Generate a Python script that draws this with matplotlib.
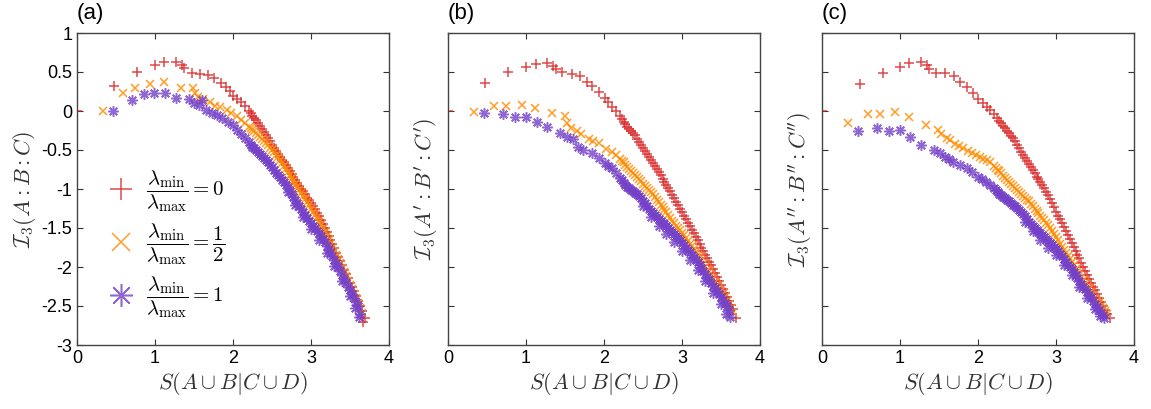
import numpy as np
import matplotlib
matplotlib.use("Agg")
import matplotlib.pyplot as plt

plt.rcParams['font.family'] = ['Liberation Sans', 'DejaVu Sans']
plt.rcParams['mathtext.fontset'] = 'cm'

# ---- panel (a) ----
a_red_x = [0, 0.478, 0.769, 1.0, 1.12, 1.265, 1.35, 1.376, 1.47, 1.58, 1.68, 1.76, 1.846, 1.906, 1.96,
           2.0, 2.05, 2.1, 2.15, 2.2, 2.25, 2.3, 2.35, 2.4, 2.45, 2.5, 2.55, 2.6, 2.65, 2.7, 2.75, 2.8,
           2.85, 2.9, 2.95, 3.0, 3.05, 3.1, 3.15, 3.2, 3.25, 3.3, 3.35, 3.4, 3.45, 3.5, 3.55, 3.6, 3.65,
           3.69, 3.67,
           2.225, 2.275, 2.325, 2.375, 2.425, 2.475, 2.525, 2.575, 2.625, 2.675, 2.725, 2.775, 2.825,
           2.875, 2.925, 2.975, 3.025, 3.075, 3.125, 3.175, 3.225, 3.275, 3.325, 3.375, 3.425, 3.475,
           3.525, 3.575, 3.625]
a_red_y = [0, 0.325, 0.496, 0.59, 0.628, 0.632, 0.59, 0.547, 0.483, 0.47, 0.456, 0.419, 0.363, 0.313, 0.26,
           0.19, 0.15, 0.11, 0.06, 0.0, -0.06, -0.115, -0.19, -0.27, -0.35, -0.43, -0.51, -0.585, -0.66,
           -0.73, -0.81, -0.88, -0.96, -1.03, -1.11, -1.18, -1.26, -1.35, -1.45, -1.55, -1.65, -1.76,
           -1.87, -1.98, -2.09, -2.2, -2.31, -2.43, -2.56, -2.66, -2.70,
           -0.03, -0.088, -0.152, -0.23, -0.31, -0.39, -0.47, -0.548, -0.622, -0.695, -0.77, -0.845,
           -0.92, -0.995, -1.07, -1.145, -1.22, -1.305, -1.40, -1.50, -1.60, -1.705, -1.815, -1.925,
           -2.035, -2.145, -2.255, -2.37, -2.495]
a_org_x = [0.333, 0.585, 0.744, 0.94, 1.115, 1.33, 1.49, 1.51, 1.555, 1.61, 1.705, 1.77, 1.83, 1.92, 1.98,
           2.05, 2.1, 2.15, 2.2, 2.25, 2.3, 2.35, 2.4, 2.45, 2.5, 2.55, 2.6, 2.65, 2.7, 2.75, 2.8, 2.85,
           2.9, 2.95, 3.0, 3.05, 3.1, 3.15, 3.2, 3.25, 3.3, 3.35, 3.4, 3.45, 3.5, 3.55, 3.6, 3.65,
           2.225, 2.275, 2.325, 2.375, 2.425, 2.475, 2.525, 2.575, 2.625, 2.675, 2.725, 2.775, 2.825,
           2.875, 2.925, 2.975, 3.025, 3.075, 3.125, 3.175, 3.225, 3.275, 3.325, 3.375, 3.425, 3.475,
           3.525, 3.575, 3.625]
a_org_y = [0.0, 0.235, 0.29, 0.34, 0.367, 0.30, 0.30, 0.235, 0.18, 0.16, 0.12, 0.064, 0.056, 0.013, -0.03,
           -0.07, -0.11, -0.16, -0.2, -0.24, -0.28, -0.33, -0.38, -0.44, -0.5, -0.56, -0.63, -0.71, -0.78,
           -0.86, -0.93, -1.01, -1.09, -1.17, -1.25, -1.33, -1.42, -1.51, -1.6, -1.7, -1.8, -1.9, -2.01,
           -2.12, -2.23, -2.34, -2.46, -2.59,
           -0.22, -0.26, -0.305, -0.355, -0.41, -0.47, -0.53, -0.595, -0.67, -0.745, -0.82, -0.895,
           -0.97, -1.05, -1.13, -1.21, -1.29, -1.375, -1.465, -1.555, -1.65, -1.75, -1.85, -1.955,
           -2.065, -2.175, -2.285, -2.4, -2.525]
a_pur_x = [0.46, 0.705, 0.86, 0.99, 1.128, 1.27, 1.43, 1.5, 1.564, 1.6, 1.66, 1.73, 1.79, 1.855, 1.94,
           2.0, 2.05, 2.1, 2.15, 2.2, 2.25, 2.3, 2.35, 2.4, 2.45, 2.5, 2.55, 2.6, 2.65, 2.7, 2.75, 2.8,
           2.85, 2.9, 2.95, 3.0, 3.05, 3.1, 3.15, 3.2, 3.25, 3.3, 3.35, 3.4, 3.45, 3.5, 3.55, 3.6, 3.63,
           3.62, 2.7, 2.8, 2.9, 3.0, 3.1, 3.2, 3.3, 3.4, 3.5, 3.57,
           2.225, 2.275, 2.325, 2.375, 2.425, 2.475, 2.525, 2.575, 2.625, 2.675, 2.725, 2.775, 2.825,
           2.875, 2.925, 2.975, 3.025, 3.075, 3.125, 3.175, 3.225, 3.275, 3.325, 3.375, 3.425, 3.475,
           3.525, 3.575]
a_pur_y = [0.0, 0.137, 0.214, 0.23, 0.227, 0.17, 0.154, 0.099, 0.077, 0.14, 0.013, -0.03, -0.05, -0.094,
           -0.137, -0.18, -0.24, -0.29, -0.34, -0.4, -0.46, -0.5, -0.55, -0.6, -0.66, -0.72, -0.79, -0.85,
           -0.91, -0.98, -1.06, -1.14, -1.22, -1.3, -1.37, -1.44, -1.5, -1.57, -1.64, -1.73, -1.82, -1.91,
           -2.0, -2.1, -2.2, -2.3, -2.4, -2.5, -2.6, -2.64, -1.04, -1.2, -1.36, -1.51, -1.66, -1.82,
           -1.99, -2.18, -2.37, -2.52,
           -0.43, -0.48, -0.525, -0.575, -0.63, -0.69, -0.755, -0.82, -0.88, -0.945, -1.02, -1.1, -1.18,
           -1.26, -1.335, -1.405, -1.47, -1.535, -1.605, -1.685, -1.775, -1.865, -1.955, -2.05, -2.15,
           -2.25, -2.35, -2.45]

# ---- panel (b) ----
b_red_x = [0, 0.474, 0.773, 1.0, 1.124, 1.27, 1.35, 1.38, 1.465, 1.585, 1.69, 1.78, 1.84, 1.93, 2.01,
           2.05, 2.1, 2.15, 2.2, 2.25, 2.3, 2.35, 2.4, 2.45, 2.5, 2.55, 2.6, 2.65, 2.7, 2.75, 2.8, 2.85,
           2.9, 2.95, 3.0, 3.05, 3.1, 3.15, 3.2, 3.25, 3.3, 3.35, 3.4, 3.45, 3.5, 3.55, 3.6, 3.65, 3.69,
           2.225, 2.275, 2.325, 2.375, 2.425, 2.475, 2.525, 2.575, 2.625, 2.675, 2.725, 2.775, 2.825,
           2.875, 2.925, 2.975, 3.025, 3.075, 3.125, 3.175, 3.225, 3.275, 3.325, 3.375, 3.425, 3.475,
           3.525, 3.575, 3.625]
b_red_y = [0, 0.355, 0.496, 0.57, 0.6, 0.61, 0.58, 0.534, 0.496, 0.474, 0.449, 0.376, 0.32, 0.248, 0.163,
           0.11, 0.055, 0.0, -0.07, -0.137, -0.2, -0.25, -0.31, -0.4, -0.48, -0.55, -0.63, -0.71, -0.78,
           -0.87, -0.95, -1.03, -1.12, -1.21, -1.3, -1.39, -1.48, -1.57, -1.66, -1.75, -1.84, -1.93,
           -2.03, -2.13, -2.23, -2.33, -2.43, -2.54, -2.66,
           -0.10, -0.17, -0.225, -0.28, -0.355, -0.44, -0.515, -0.59, -0.67, -0.745, -0.825, -0.91,
           -0.99, -1.075, -1.165, -1.255, -1.345, -1.435, -1.525, -1.615, -1.705, -1.795, -1.885,
           -1.98, -2.08, -2.18, -2.28, -2.38, -2.485]
b_org_x = [0.333, 0.59, 0.744, 0.944, 1.12, 1.33, 1.5, 1.52, 1.58, 1.65, 1.71, 1.81, 1.86, 1.93, 2.03,
           2.1, 2.15, 2.2, 2.25, 2.3, 2.35, 2.4, 2.45, 2.5, 2.55, 2.6, 2.65, 2.7, 2.75, 2.8, 2.85, 2.9,
           2.95, 3.0, 3.05, 3.1, 3.15, 3.2, 3.25, 3.3, 3.35, 3.4, 3.45, 3.5, 3.55, 3.6, 3.65,
           2.225, 2.275, 2.325, 2.375, 2.425, 2.475, 2.525, 2.575, 2.625, 2.675, 2.725, 2.775, 2.825,
           2.875, 2.925, 2.975, 3.025, 3.075, 3.125, 3.175, 3.225, 3.275, 3.325, 3.375, 3.425, 3.475,
           3.525, 3.575, 3.625]
b_org_y = [-0.017, 0.068, 0.068, 0.08, 0.043, -0.03, -0.064, -0.158, -0.22, -0.25, -0.295, -0.363, -0.39,
           -0.406, -0.49, -0.52, -0.56, -0.61, -0.66, -0.72, -0.77, -0.82, -0.87, -0.93, -0.99, -1.04,
           -1.1, -1.17, -1.23, -1.3, -1.37, -1.44, -1.5, -1.56, -1.63, -1.7, -1.77, -1.84, -1.92, -2.0,
           -2.07, -2.15, -2.23, -2.31, -2.39, -2.48, -2.58,
           -0.635, -0.69, -0.745, -0.795, -0.845, -0.9, -0.96, -1.015, -1.07, -1.135, -1.2, -1.265,
           -1.335, -1.405, -1.47, -1.53, -1.595, -1.665, -1.735, -1.805, -1.88, -1.96, -2.035, -2.11,
           -2.19, -2.27, -2.35, -2.435, -2.53]
b_pur_x = [0.466, 0.71, 0.86, 1.0, 1.137, 1.27, 1.435, 1.52, 1.6, 1.67, 1.735, 1.84, 1.93, 2.01, 2.05,
           2.1, 2.15, 2.2, 2.25, 2.3, 2.35, 2.4, 2.45, 2.5, 2.55, 2.6, 2.65, 2.7, 2.75, 2.8, 2.85, 2.9,
           2.95, 3.0, 3.05, 3.1, 3.15, 3.2, 3.25, 3.3, 3.35, 3.4, 3.45, 3.5, 3.55, 3.6, 3.62,
           2.5, 2.6, 2.7, 2.8, 2.9, 3.0, 3.1, 3.2, 3.3, 3.4, 3.5, 3.57,
           2.225, 2.275, 2.325, 2.375, 2.425, 2.475, 2.525, 2.575, 2.625, 2.675, 2.725, 2.775, 2.825,
           2.875, 2.925, 2.975, 3.025, 3.075, 3.125, 3.175, 3.225, 3.275, 3.325, 3.375, 3.425, 3.475,
           3.525, 3.575]
b_pur_y = [-0.02, -0.043, -0.081, -0.081, -0.137, -0.21, -0.278, -0.338, -0.363, -0.457, -0.5, -0.543,
           -0.607, -0.67, -0.7, -0.735, -0.8, -0.86, -0.92, -0.97, -1.01, -1.05, -1.09, -1.15, -1.22,
           -1.28, -1.33, -1.38, -1.43, -1.48, -1.53, -1.58, -1.63, -1.69, -1.75, -1.81, -1.87, -1.94,
           -2.01, -2.09, -2.16, -2.24, -2.31, -2.38, -2.46, -2.55, -2.64,
           -1.22, -1.36, -1.47, -1.58, -1.68, -1.79, -1.91, -2.04, -2.18, -2.33, -2.47, -2.6,
           -0.89, -0.945, -0.99, -1.03, -1.07, -1.12, -1.185, -1.25, -1.305, -1.355, -1.405, -1.455,
           -1.505, -1.555, -1.605, -1.66, -1.72, -1.78, -1.84, -1.905, -1.975, -2.05, -2.125, -2.2,
           -2.275, -2.345, -2.42, -2.505]

# ---- panel (c) ----
c_red_x = [0, 0.487, 0.778, 1.0, 1.12, 1.265, 1.35, 1.376, 1.46, 1.58, 1.69, 1.77, 1.855, 1.94, 2.0,
           2.07, 2.11, 2.15, 2.2, 2.24, 2.3, 2.35, 2.4, 2.45, 2.5, 2.55, 2.6, 2.65, 2.7, 2.75, 2.8, 2.85,
           2.9, 2.95, 3.0, 3.05, 3.1, 3.15, 3.2, 3.25, 3.3, 3.35, 3.4, 3.45, 3.5, 3.55, 3.6, 3.65, 3.69,
           2.275, 2.325, 2.375, 2.425, 2.475, 2.525, 2.575, 2.625, 2.675, 2.725, 2.775, 2.825, 2.875,
           2.925, 2.975, 3.025, 3.075, 3.125, 3.175, 3.225, 3.275, 3.325, 3.375, 3.425, 3.475, 3.525,
           3.575, 3.625]
c_red_y = [0, 0.342, 0.49, 0.57, 0.61, 0.624, 0.59, 0.538, 0.49, 0.483, 0.453, 0.376, 0.312, 0.227, 0.16,
           0.099, 0.05, 0.013, -0.04, -0.094, -0.16, -0.22, -0.28, -0.35, -0.43, -0.52, -0.6, -0.68,
           -0.76, -0.84, -0.91, -0.99, -1.08, -1.18, -1.29, -1.39, -1.49, -1.59, -1.69, -1.79, -1.89,
           -2.0, -2.1, -2.2, -2.3, -2.4, -2.5, -2.6, -2.66,
           -0.13, -0.19, -0.25, -0.315, -0.39, -0.475, -0.56, -0.64, -0.72, -0.8, -0.875, -0.95, -1.035,
           -1.13, -1.235, -1.34, -1.44, -1.54, -1.64, -1.74, -1.84, -1.945, -2.05, -2.15, -2.25, -2.35,
           -2.45, -2.55]
c_org_x = [0.333, 0.585, 0.744, 0.94, 1.12, 1.33, 1.49, 1.53, 1.6, 1.64, 1.7, 1.76, 1.81, 1.87, 1.92,
           1.97, 2.03, 2.07, 2.11, 2.16, 2.2, 2.25, 2.3, 2.35, 2.4, 2.45, 2.5, 2.55, 2.6, 2.65, 2.7, 2.75,
           2.8, 2.85, 2.9, 2.95, 3.0, 3.05, 3.1, 3.15, 3.2, 3.25, 3.3, 3.35, 3.4, 3.45, 3.5, 3.55, 3.6, 3.65,
           2.225, 2.275, 2.325, 2.375, 2.425, 2.475, 2.525, 2.575, 2.625, 2.675, 2.725, 2.775, 2.825,
           2.875, 2.925, 2.975, 3.025, 3.075, 3.125, 3.175, 3.225, 3.275, 3.325, 3.375, 3.425, 3.475,
           3.525, 3.575, 3.625]
c_org_y = [-0.15, -0.038, -0.038, -0.017, -0.073, -0.184, -0.244, -0.3, -0.35, -0.37, -0.423, -0.45,
           -0.47, -0.51, -0.543, -0.57, -0.594, -0.61, -0.628, -0.66, -0.7, -0.75, -0.8, -0.86, -0.91,
           -0.96, -1.01, -1.06, -1.11, -1.16, -1.22, -1.28, -1.34, -1.4, -1.46, -1.54, -1.62, -1.7,
           -1.78, -1.86, -1.94, -2.02, -2.1, -2.17, -2.25, -2.32, -2.4, -2.46, -2.53, -2.6,
           -0.725, -0.775, -0.83, -0.885, -0.935, -0.985, -1.035, -1.085, -1.135, -1.19, -1.25, -1.31,
           -1.37, -1.43, -1.5, -1.58, -1.66, -1.74, -1.82, -1.9, -1.98, -2.06, -2.135, -2.21, -2.285,
           -2.36, -2.43, -2.495, -2.565]
c_pur_x = [0.466, 0.71, 0.863, 0.996, 1.13, 1.27, 1.43, 1.51, 1.58, 1.63, 1.68, 1.77, 1.855, 1.92, 2.0,
           2.05, 2.1, 2.15, 2.2, 2.25, 2.3, 2.35, 2.4, 2.45, 2.5, 2.55, 2.6, 2.65, 2.7, 2.75, 2.8, 2.85,
           2.9, 2.95, 3.0, 3.05, 3.1, 3.15, 3.2, 3.25, 3.3, 3.35, 3.4, 3.45, 3.5, 3.55, 3.6, 3.61,
           2.6, 2.7, 2.8, 2.9, 3.0, 3.1, 3.2, 3.3, 3.4, 3.5, 3.57,
           2.225, 2.275, 2.325, 2.375, 2.425, 2.475, 2.525, 2.575, 2.625, 2.675, 2.725, 2.775, 2.825,
           2.875, 2.925, 2.975, 3.025, 3.075, 3.125, 3.175, 3.225, 3.275, 3.325, 3.375, 3.425, 3.475,
           3.525, 3.575]
c_pur_y = [-0.256, -0.214, -0.256, -0.248, -0.333, -0.436, -0.5, -0.543, -0.585, -0.61, -0.65, -0.69,
           -0.735, -0.78, -0.84, -0.87, -0.91, -0.95, -0.99, -1.04, -1.08, -1.12, -1.16, -1.2, -1.24,
           -1.29, -1.35, -1.42, -1.47, -1.52, -1.57, -1.62, -1.67, -1.72, -1.77, -1.83, -1.9, -1.97,
           -2.03, -2.1, -2.18, -2.25, -2.32, -2.39, -2.47, -2.55, -2.62, -2.66,
           -1.42, -1.54, -1.65, -1.75, -1.85, -1.97, -2.1, -2.25, -2.4, -2.54, -2.63,
           -1.015, -1.06, -1.1, -1.14, -1.18, -1.22, -1.265, -1.32, -1.385, -1.445, -1.495, -1.545,
           -1.595, -1.645, -1.695, -1.745, -1.8, -1.865, -1.935, -2.0, -2.065, -2.14, -2.215, -2.285,
           -2.355, -2.43, -2.51, -2.585]

panels = [
    ("(a)", r"$\mathcal{I}_3(A:B:C)$", (a_red_x, a_red_y), (a_org_x, a_org_y), (a_pur_x, a_pur_y)),
    ("(b)", r"$\mathcal{I}_3(A':B':C')$", (b_red_x, b_red_y), (b_org_x, b_org_y), (b_pur_x, b_pur_y)),
    ("(c)", r"$\mathcal{I}_3(A'':B'':C'')$", (c_red_x, c_red_y), (c_org_x, c_org_y), (c_pur_x, c_pur_y)),
]

red = '#d81e1e'
orange = '#ff8c00'
purple = '#7440c8'
lefts = [77, 448, 822]

fig = plt.figure(figsize=(11.51, 4.09), dpi=100)
W, H = 1151, 409
for i, (tag, ylab, r, o, p) in enumerate(panels):
    ax = fig.add_axes([lefts[i] / W, (H - 345) / H, 312 / W, 312 / H])
    h1, = ax.plot(r[0], r[1], '+', color=red, ms=7, mew=1.1, alpha=0.8, linestyle='none')
    h2, = ax.plot(o[0], o[1], 'x', color=orange, ms=6, mew=1.1, alpha=0.85, linestyle='none')
    h3, = ax.plot(p[0], p[1], marker=(8, 2, 0), color=purple, ms=7.5, mew=1.1, alpha=0.8, linestyle='none')
    ax.set_xlim(0, 4)
    ax.set_ylim(-3, 1)
    ax.set_xticks([0, 1, 2, 3, 4])
    ax.set_yticks(np.arange(-3, 1.01, 0.5))
    ax.tick_params(direction='in', top=True, right=True, length=4, labelsize=13, color='#333333')
    if i == 0:
        ax.set_yticklabels(['-3', '-2.5', '-2', '-1.5', '-1', '-0.5', '0', '0.5', '1'])
    else:
        ax.set_yticklabels([])
    for s in ax.spines.values():
        s.set_color('#444444')
        s.set_linewidth(1.0)
    ax.set_xlabel(r"$S(A\cup B|C\cup D)$", fontsize=16, labelpad=2, color='#333333')
    ax.set_ylabel(ylab, fontsize=16, labelpad=2, color='#333333')
    ax.text(0, 1.03, tag, transform=ax.transAxes, fontsize=16, ha='left', va='bottom')
    if i == 0:
        ax.legend([h1, h2, h3],
                  [r'$\dfrac{\lambda_{\min}}{\lambda_{\max}}=0$',
                   r'$\dfrac{\lambda_{\min}}{\lambda_{\max}}=\dfrac{1}{2}$',
                   r'$\dfrac{\lambda_{\min}}{\lambda_{\max}}=1$'],
                  loc='lower left', bbox_to_anchor=(0.04, 0.02), frameon=False, fontsize=15,
                  markerscale=2.2, labelspacing=0.35, handletextpad=0.6, handlelength=1.2)

fig.savefig('out.png', dpi=100)
